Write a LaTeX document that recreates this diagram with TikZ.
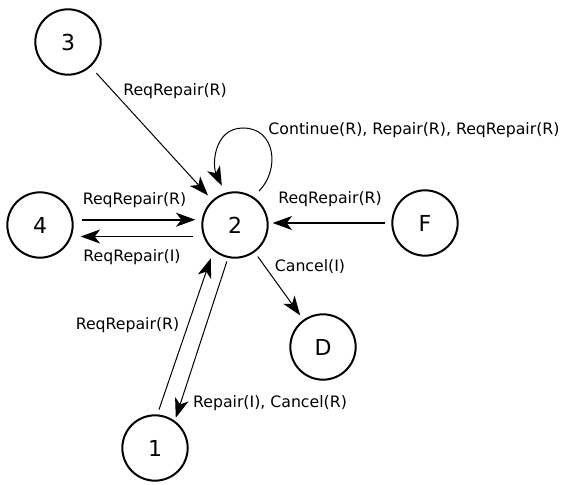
\documentclass[tikz,border=0pt]{standalone}
\usepackage{fontspec}
\setmainfont{DejaVu Sans}
\usetikzlibrary{arrows.meta}

\tikzset{every picture/.style={line width=0.75pt}}
\tikzset{
  state/.style={draw, circle, line width=1.5pt, minimum size=49pt, inner sep=0pt, font=\fontsize{16.5}{18}\selectfont},
  trans/.style={-{Stealth[length=14.5pt,width=10.5pt,inset=4pt]}},
  lbl/.style={inner sep=0.75pt, font=\fontsize{11.8}{14}\selectfont}
}

\begin{document}
\begin{tikzpicture}[x=0.75pt,y=0.75pt,yscale=-1,xscale=1]
\useasboundingbox (0,0) rectangle (565,485);

% States
\node [state] (n3) at (68,42) {3};
\node [state] (n4) at (40,225) {4};
\node [state] (n2) at (235,225) {2};
\node [state] (nF) at (425,223) {F};
\node [state] (nD) at (323,347) {D};
\node [state] (n1) at (155,448) {1};

% 3 -> 2
\draw [trans, shorten <=6.3pt, shorten >=4.8pt] (n3) -- (n2) ;
% 4 <-> 2
\draw [trans, line width=1.2pt, shorten <=6.3pt, shorten >=4.8pt] (n4.9) -- (n2.171) ;
\draw [trans, line width=1.2pt, shorten <=7.5pt, shorten >=6.8pt] (n2.200) -- (n4.-20) ;
% self loop on 2
\draw [trans, shorten <=6pt, shorten >=5.8pt] (n2.57) .. controls (280,170) and (276,128) .. (243,128) .. controls (214,128) and (212,165) .. (n2.107) ;
% F -> 2
\draw [trans, line width=1.2pt, shorten <=4.5pt, shorten >=3pt] (nF.west) -- (nF.west -| n2.east) ;
% 2 -> D
\draw [trans, shorten <=4pt, shorten >=4pt] (n2) -- (nD) ;
% 1 <-> 2
\draw [trans, shorten <=3.8pt, shorten >=6pt] (n1.86) -- (n2.230) ;
\draw [trans, shorten <=2.8pt, shorten >=2.4pt] (n2.258) -- (n1.54) ;

% Text Node
\node [lbl] (l32) at (175,91) {ReqRepair(R)};
\node [lbl] (l42) at (134.5,200) {ReqRepair(R)};
\node [lbl] (l24) at (132,257) {ReqRepair(I)};
\node [lbl] (l22) at (414,130) {Continue(R), Repair(R), ReqRepair(R)};
\node [lbl] (lF2) at (330,199) {ReqRepair(R)};
\node [lbl] (l2D) at (310,267) {Cancel(I)};
\node [lbl] (l12) at (127.5,325) {ReqRepair(R)};
\node [lbl] (l21) at (270,403) {Repair(I), Cancel(R)};

\end{tikzpicture}
\end{document}
